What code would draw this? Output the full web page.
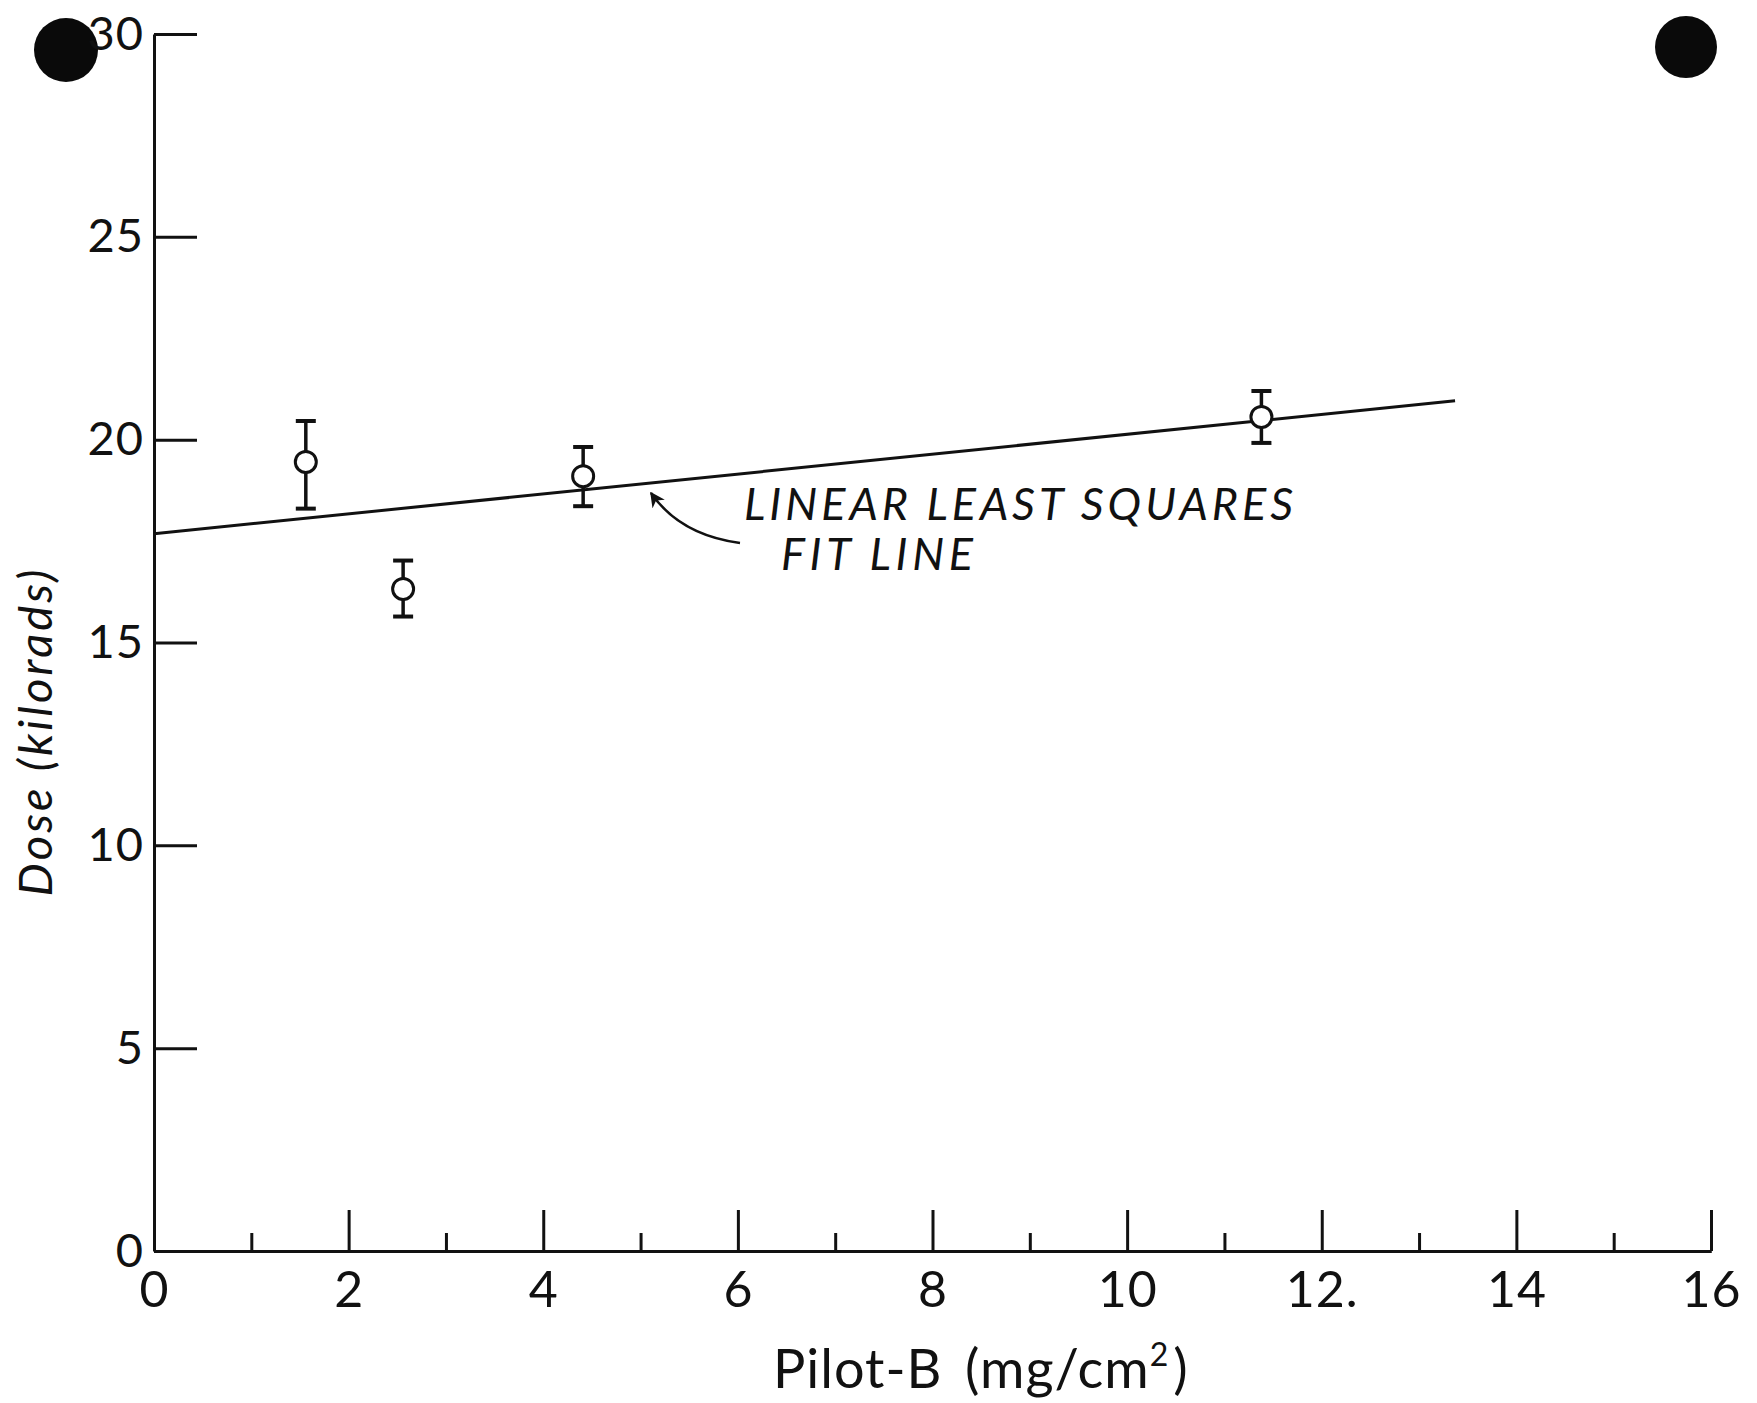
<!DOCTYPE html>
<html>
<head>
<meta charset="utf-8">
<script src="https://cdn.jsdelivr.net/npm/d3@7"></script>
<style>
  body { margin: 0; background: #fff; }
  svg text { font-family: 'Lato', 'DejaVu Sans', sans-serif; fill: #111; }
</style>
</head>
<body>
<div id="chart"></div>
<script>
// data
const pilotB = [1.56, 2.56, 4.41, 11.38]
const dose = [19.45, 16.32, 19.1, 20.56]
const doseLow = [18.3, 15.64, 18.36, 19.92]
const doseHigh = [20.46, 17.02, 19.82, 21.2]

// least squares fit line end points
const fitX = [0, 13.37]
const fitY = [17.68, 20.96]

const xMajorTicks = [0, 2, 4, 6, 8, 10, 12, 14, 16]
const xMajorLabels = ['0', '2', '4', '6', '8', '10', '12.', '14', '16']
const xMinorTicks = [1, 3, 5, 7, 9, 11, 13, 15]
const yTicks = [0, 5, 10, 15, 20, 25, 30]

const width = 1757
const height = 1403
const margin = { top: 34, left: 154, right: 46, bottom: 152 }

const svg = d3
  .select('#chart')
  .append('svg')
  .attr('width', width)
  .attr('height', height)

const x = d3
  .scaleLinear()
  .domain([0, 16])
  .range([margin.left, width - margin.right])

const y = d3
  .scaleLinear()
  .domain([0, 30])
  .range([height - margin.bottom, margin.top])

// punch holes of the scanned page
svg.append('circle').attr('cx', 66).attr('cy', 50).attr('r', 32).attr('fill', '#0a0a0a')
svg.append('circle').attr('cx', 1686).attr('cy', 47).attr('r', 31).attr('fill', '#0a0a0a')

// y axis, ticks pointing inward
const yAxis = d3
  .axisLeft(y)
  .tickValues(yTicks)
  .tickSize(-43)
  .tickSizeOuter(0)
  .tickPadding(10)
  .tickFormat(d3.format('d'))

svg
  .append('g')
  .attr('class', 'axis y-axis')
  .attr('transform', 'translate(' + x(0) + ',0)')
  .call(yAxis)

// x axis, major then minor ticks
const xAxis = d3
  .axisBottom(x)
  .tickValues(xMajorTicks)
  .tickSize(-41)
  .tickSizeOuter(0)
  .tickPadding(20)
  .tickFormat((d, i) => xMajorLabels[i])

svg
  .append('g')
  .attr('class', 'axis x-axis')
  .attr('transform', 'translate(0,' + y(0) + ')')
  .call(xAxis)

const xMinor = d3
  .axisBottom(x)
  .tickValues(xMinorTicks)
  .tickSize(-18)
  .tickSizeOuter(0)
  .tickFormat('')

svg
  .append('g')
  .attr('class', 'axis x-minor')
  .attr('transform', 'translate(0,' + y(0) + ')')
  .call(xMinor)

svg.selectAll('.axis path, .axis line')
  .attr('stroke', '#111')
  .attr('stroke-width', 3)

svg.selectAll('.y-axis text')
  .attr('font-size', 47)
  .attr('letter-spacing', 1)

svg.selectAll('.x-axis text')
  .attr('font-size', 50)
  .attr('letter-spacing', 1)

// axis titles
const xTitle = svg
  .append('text')
  .attr('y', 1388)
  .attr('font-size', 54)
  .attr('letter-spacing', 1)

xTitle.append('tspan').attr('x', 773).text('Pilot-B')
xTitle.append('tspan').attr('x', 965).text('(mg/cm')
xTitle.append('tspan').attr('dy', -22).attr('font-size', 32).text('2')
xTitle.append('tspan').attr('dy', 22).attr('dx', 4).text(')')

svg
  .append('text')
  .attr('transform', 'translate(52,' + 733 + ') rotate(-90)')
  .attr('text-anchor', 'middle')
  .attr('font-size', 47)
  .attr('font-style', 'italic')
  .attr('textLength', 327)
  .text('Dose (kilorads)')

// fit line
const line = d3
  .line()
  .x(d => x(d[0]))
  .y(d => y(d[1]))

svg
  .append('path')
  .datum(d3.zip(fitX, fitY))
  .attr('d', line)
  .attr('fill', 'none')
  .attr('stroke', '#111')
  .attr('stroke-width', 3)

// points with error bars
const points = d3.range(pilotB.length).map(i => ({
  x: pilotB[i],
  y: dose[i],
  lo: doseLow[i],
  hi: doseHigh[i]
}))

const pt = svg
  .selectAll('.point')
  .data(points)
  .enter()
  .append('g')
  .attr('class', 'point')

pt.append('line')
  .attr('x1', d => x(d.x))
  .attr('x2', d => x(d.x))
  .attr('y1', d => y(d.lo))
  .attr('y2', d => y(d.hi))
  .attr('stroke', '#111')
  .attr('stroke-width', 3.5)

pt.selectAll('.cap')
  .data(d => [d.lo, d.hi].map(v => ({ x: d.x, v: v })))
  .enter()
  .append('line')
  .attr('class', 'cap')
  .attr('x1', d => x(d.x) - 10)
  .attr('x2', d => x(d.x) + 10)
  .attr('y1', d => y(d.v))
  .attr('y2', d => y(d.v))
  .attr('stroke', '#111')
  .attr('stroke-width', 4)

pt.append('circle')
  .attr('cx', d => x(d.x))
  .attr('cy', d => y(d.y))
  .attr('r', 10.5)
  .attr('fill', '#fff')
  .attr('stroke', '#111')
  .attr('stroke-width', 3)

// annotation
svg
  .append('defs')
  .append('marker')
  .attr('id', 'arrow')
  .attr('viewBox', '0 0 10 10')
  .attr('refX', 9)
  .attr('refY', 5)
  .attr('markerWidth', 6)
  .attr('markerHeight', 6)
  .attr('orient', 'auto')
  .append('path')
  .attr('d', 'M0,0 L10,5 L0,10 L3,5 Z')
  .attr('fill', '#111')

svg
  .append('path')
  .attr('d', 'M740,543 Q680,535 651,493')
  .attr('fill', 'none')
  .attr('stroke', '#111')
  .attr('stroke-width', 2.5)
  .attr('marker-end', 'url(#arrow)')

const note = svg
  .append('text')
  .attr('font-size', 45)
  .attr('font-style', 'italic')

note.append('tspan').attr('x', 744).attr('y', 520).attr('textLength', 549).text('LINEAR LEAST SQUARES')
note.append('tspan').attr('x', 781).attr('y', 570).attr('textLength', 192).text('FIT LINE')
</script>
</body>
</html>
